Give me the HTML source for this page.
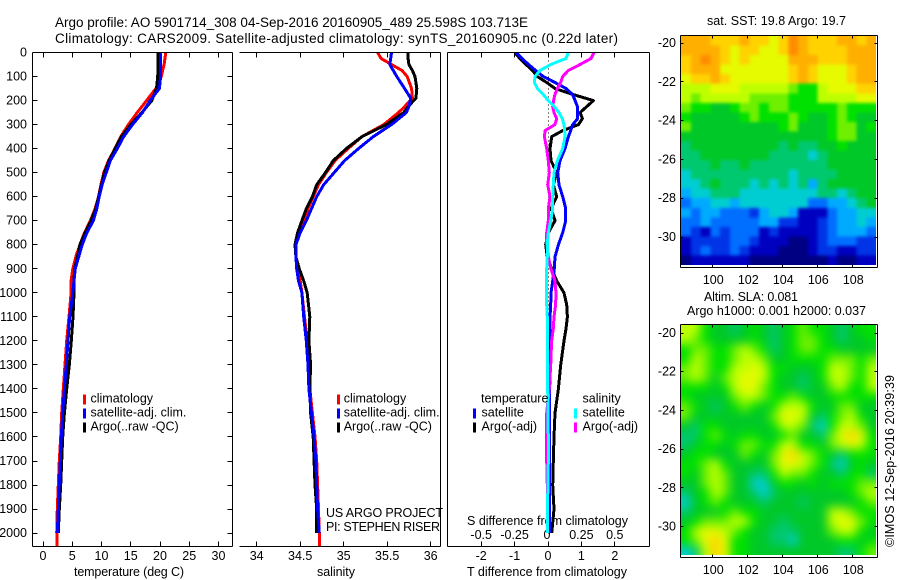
<!DOCTYPE html>
<html>
<head>
<meta charset="utf-8">
<title>Argo profile</title>
<style>
html,body{margin:0;padding:0;background:#fff;width:900px;height:580px;overflow:hidden}
svg{display:block}
text{font-family:"Liberation Sans",sans-serif;font-size:12.5px;fill:#000}
</style>
</head>
<body>
<svg id="chart" xmlns="http://www.w3.org/2000/svg" width="900" height="580" viewBox="0 0 900 580">
<text x="55" y="27" style="font-size:13.5px" textLength="473" lengthAdjust="spacing">Argo profile: AO 5901714_308 04-Sep-2016 20160905_489 25.598S 103.713E</text>
<text x="55" y="43" style="font-size:13.5px" textLength="563" lengthAdjust="spacing">Climatology: CARS2009. Satellite-adjusted climatology: synTS_20160905.nc (0.22d later)</text>
<text x="74" y="576" textLength="110" lengthAdjust="spacing">temperature (deg C)</text>
<text x="317" y="576" textLength="38" lengthAdjust="spacing">salinity</text>
<text x="467" y="576" textLength="160" lengthAdjust="spacing">T difference from climatology</text>
<text x="467" y="525" textLength="161" lengthAdjust="spacing">S difference from climatology</text>
<text x="326" y="517" textLength="117" lengthAdjust="spacing">US ARGO PROJECT</text>
<text x="326" y="531" textLength="114" lengthAdjust="spacing">PI: STEPHEN RISER</text>
<text x="707" y="25" textLength="139" lengthAdjust="spacing">sat. SST: 19.8 Argo: 19.7</text>
<text x="704" y="301" textLength="94" lengthAdjust="spacing">Altim. SLA: 0.081</text>
<text x="687" y="315" textLength="179" lengthAdjust="spacing">Argo h1000: 0.001 h2000: 0.037</text>
<text transform="translate(894 547) rotate(-90)" textLength="172" lengthAdjust="spacing">©IMOS 12-Sep-2016 20:39:39</text>
</svg>
<script>
// ---- profile data ----
const depthsTempUpper = [0,50,100,150,200,250,300,350,400,450,500,550,600,650,700,750,800,850,900,950,1000,1100,1200,1300,1400,1500,1600,1700,1800,1900,2000];
const climTemp = [21.0,20.7,20.2,19.3,17.7,16.1,14.6,13.3,12.3,11.2,10.4,9.9,9.5,8.9,8.1,7.1,6.3,5.6,5.1,4.8,4.8,4.45,4.05,3.76,3.47,3.2,3.02,2.79,2.62,2.45,2.34];
const satTemp = [20.1,20.1,20.1,19.9,18.3,17.0,15.3,13.8,12.7,11.5,10.8,10.1,9.6,9.2,8.6,7.5,6.7,6.1,5.5,5.3,5.1,4.56,4.27,3.99,3.65,3.36,3.13,2.96,2.79,2.62,2.45];
const argoTemp = [19.7,19.7,19.6,19.4,18.6,16.9,15.0,13.4,12.3,11.3,10.5,10.0,9.5,9.0,8.2,7.2,6.3,5.9,5.4,5.3,5.3,5.13,4.84,4.5,4.05,3.65,3.36,3.2,3.02,2.79,2.62];
const climTail = [2.4,2.4];
const climTailDepths = [2000,2060];

const depthsSal = [0,25,50,75,100,150,190,225,250,300,350,400,450,500,550,600,650,700,750,800,850,900,950,1000,1100,1200,1300,1400,1500,1600,1700,1800,1900,2000];
const climSal = [35.39,35.43,35.55,35.67,35.73,35.78,35.79,35.70,35.63,35.46,35.21,35.05,34.90,34.80,34.71,34.65,34.59,34.54,34.49,34.45,34.45,34.47,34.50,34.52,34.55,34.58,34.60,34.61,34.64,34.67,34.69,34.70,34.71,34.72];
const satSal = [35.55,35.54,35.53,35.57,35.61,35.70,35.77,35.75,35.72,35.55,35.34,35.17,35.01,34.89,34.77,34.69,34.63,34.57,34.50,34.45,34.45,34.46,34.48,34.52,34.54,34.57,34.59,34.60,34.63,34.66,34.68,34.69,34.70,34.72];
const argoSal = [35.74,35.74,35.75,35.79,35.82,35.84,35.83,35.74,35.69,35.49,35.21,35.03,34.88,34.79,34.69,34.64,34.57,34.52,34.47,34.44,34.45,34.49,34.54,34.58,34.61,34.60,34.62,34.61,34.62,34.65,34.66,34.67,34.69,34.69];

const depthsDiff = [0,25,50,75,100,125,150,175,200,225,250,275,300,325,350,400,450,500,550,600,650,700,750,800,850,900,950,1000,1050,1100,1150,1200,1300,1400,1500,1600,1700,1800,1900,2000];
const satDiffT = [-0.96,-0.78,-0.58,-0.37,-0.14,0.21,0.54,0.74,0.81,0.88,0.89,0.89,0.74,0.68,0.61,0.51,0.36,0.29,0.33,0.44,0.53,0.53,0.44,0.31,0.21,0.19,0.14,0.09,0.08,0.06,0.06,0.06,0.06,0.05,0.05,0.05,0.05,0.05,0.05,0.04];
const argoDiffT = [-0.99,-0.84,-0.66,-0.46,-0.32,-0.04,0.21,0.76,1.36,1.16,0.96,1.03,0.91,0.44,0.11,0.06,0.09,0.26,0.16,0.26,0.09,0.21,0.01,-0.07,-0.02,0.11,0.26,0.48,0.56,0.58,0.54,0.48,0.38,0.31,0.21,0.18,0.16,0.14,0.18,0.11];
const satDiffS = [0.152,0.135,0.020,-0.060,-0.097,-0.102,-0.080,-0.035,0.002,0.047,0.082,0.107,0.120,0.125,0.127,0.110,0.070,0.045,0.040,0.035,0.035,0.020,0.002,-0.005,-0.005,-0.010,-0.010,-0.010,-0.010,-0.005,-0.005,-0.005,-0.005,-0.002,0,0.002,0.002,0,-0.005,-0.005];
const argoDiffS = [0.344,0.322,0.240,0.152,0.110,0.095,0.070,0.052,0.042,0.035,0.045,0.065,0.052,-0.022,-0.027,-0.010,0.002,0.010,-0.002,0.015,0.002,0.002,-0.010,-0.010,0.002,0.022,0.052,0.060,0.057,0.045,0.040,0.027,0.020,0.010,-0.010,-0.010,-0.010,-0.005,-0.005,-0.005];

// ---- tick labels ----
const depthTicks = [0,100,200,300,400,500,600,700,800,900,1000,1100,1200,1300,1400,1500,1600,1700,1800,1900,2000];
const tempTicks = [0,5,10,15,20,25,30];
const salTicks = [34,34.5,35,35.5,36];
const tDiffTicks = [-2,-1,0,1,2];
const sDiffTicks = [-0.5,-0.25,0,0.25,0.5];
const lonTicks = [100,102,104,106,108];
const latTicks = [-20,-22,-24,-26,-28,-30];

// ---- map data: colour-level grids, rows north to south ----
const mapColumnCount = 20;
const sstLevels = [
[13,13,13,12,12,12,13,12,12,11,12,14,13,12,12,12,13,13,12,13],
[13,13,13,13,12,11,12,12,11,11,12,14,13,12,12,12,12,13,13,13],
[12,13,14,13,12,11,12,11,11,11,11,13,13,13,12,12,12,13,13,13],
[12,13,13,13,11,11,11,11,11,11,11,12,13,12,11,11,11,12,13,13],
[11,12,12,13,12,11,11,11,11,11,11,12,13,12,11,11,11,12,13,13],
[10,10,10,11,11,11,10,10,10,10,10,9,8,8,10,11,11,11,12,12],
[10,9,10,10,10,10,10,9,9,9,9,8,8,8,10,10,10,10,11,11],
[9,8,8,7,7,8,9,9,8,9,9,8,8,8,8,8,9,8,8,8],
[8,7,7,7,7,7,8,9,8,8,8,9,8,7,7,8,9,8,7,7],
[9,7,7,7,7,7,7,7,7,7,8,9,7,7,7,8,9,9,7,8],
[7,7,7,7,7,7,7,7,7,7,7,7,7,7,7,8,9,9,7,7],
[6,7,7,7,7,7,7,7,7,7,6,7,6,6,7,7,8,7,7,7],
[6,6,7,7,7,7,7,7,7,6,6,6,6,5,6,7,7,7,7,7],
[6,6,6,7,6,6,7,6,6,6,6,6,6,6,6,7,7,7,7,7],
[5,6,6,6,6,6,6,6,6,6,6,5,6,6,6,6,7,7,7,7],
[5,5,6,7,6,6,6,5,6,5,6,5,6,4,6,7,7,7,7,7],
[4,5,5,6,6,6,5,5,5,5,5,5,5,5,6,6,5,6,7,7],
[3,4,4,5,5,4,5,5,5,5,5,5,5,3,3,4,4,5,6,7],
[4,3,4,4,3,3,3,2,4,5,5,4,1,1,1,3,4,4,5,5],
[3,3,4,3,3,3,3,3,4,4,2,2,1,1,2,3,4,4,5,4],
[3,2,1,3,2,3,3,3,1,2,1,1,1,1,2,3,4,4,4,3],
[1,2,2,2,2,3,3,2,1,1,1,0,0,1,2,3,3,3,2,2],
[1,2,3,2,2,3,2,1,1,1,0,0,0,1,2,2,1,1,2,2],
[0,1,1,1,1,1,1,0,0,0,0,0,0,0,0,1,0,0,1,1]
];
const slaLevels = [
[10,10,8,7,7,6,7,8,7,6,7,8,9,8,8,7,6,7,8,8],
[10,9,8,7,7,7,7,8,7,6,7,8,9,9,8,7,6,7,7,8],
[8,9,9,8,8,9,10,9,8,6,7,8,9,9,8,8,7,7,7,7],
[8,10,9,8,8,9,10,10,9,7,7,8,8,8,8,9,9,9,8,9],
[9,10,9,8,8,10,10,11,10,8,8,7,7,7,8,10,10,9,8,10],
[9,10,9,7,9,10,11,11,10,8,7,7,6,7,8,10,10,9,8,10],
[8,8,8,7,8,10,11,11,9,8,7,7,6,7,7,9,10,8,8,10],
[8,7,7,7,7,9,10,10,9,8,8,9,8,7,7,8,8,8,8,8],
[9,8,7,6,7,8,9,8,7,8,10,10,10,8,7,7,9,9,7,7],
[9,7,7,7,7,7,7,7,7,9,11,11,10,7,6,8,9,10,8,7],
[7,6,8,8,7,7,7,7,7,8,10,10,9,6,5,8,10,10,9,7],
[6,6,8,9,8,7,8,8,7,7,8,9,7,7,6,9,11,12,11,8],
[6,7,8,8,7,8,9,9,8,8,10,10,8,8,7,9,10,11,10,8],
[7,8,8,7,7,7,9,8,7,9,11,12,10,9,8,7,6,8,8,8],
[8,8,9,10,8,7,7,7,7,9,11,11,10,9,8,6,5,7,8,7],
[8,7,9,10,9,7,7,6,6,8,10,9,9,8,7,7,6,8,8,6],
[7,7,9,10,9,7,7,5,5,7,8,8,7,8,7,8,8,8,9,9],
[6,7,8,10,9,7,7,6,5,6,7,7,7,7,7,7,7,8,9,10],
[5,7,8,9,8,7,7,7,6,7,7,7,6,7,7,7,7,7,8,9],
[6,7,7,7,8,9,8,8,7,7,7,7,7,7,7,10,10,9,8,8],
[7,8,9,9,9,10,10,8,7,7,6,7,7,7,7,10,11,11,9,8],
[8,10,11,11,10,9,8,7,7,6,6,6,7,7,7,9,10,10,8,7],
[8,9,11,12,11,8,8,7,7,6,6,5,7,7,7,7,8,8,7,8],
[5,6,10,12,11,8,8,7,7,7,7,7,7,7,7,7,6,6,8,9]
];
const levelColours = ['#000082','#0000c0','#0034e6','#006eff','#00aaff','#00cdd2','#00c86e','#00c828','#00e100','#6ef000','#beff00','#e6fa00','#ffd200','#ffaf00','#ff8c00'];

// ---- axis functions ----
const NS = 'http://www.w3.org/2000/svg';
const svg = document.getElementById('chart');
const yDepth = d => 52.5 + d * 0.2403;
const xTemp = t => 43 + t * 5.85;
const xSal = s => 256.7 + (s - 34) * 87;
const xDiffT = t => 548 + t * 33.4;
const xDiffS = s => 548 + s * 133.6;
const xLon = lon => 712.3 + (lon - 100) * 17.5;
const ySstLat = lat => 43 + (-20 - lat) * 19.4;
const ySlaLat = lat => 333 + (-20 - lat) * 19.36;

function make(tag, parent) {
  const el = document.createElementNS(NS, tag);
  parent.appendChild(el);
  return el;
}
function segment(parent, x1, y1, x2, y2, name) {
  const el = make('line', parent);
  el.setAttribute('x1', Math.round(x1 - 0.5) + 0.5);
  el.setAttribute('y1', Math.round(y1 - 0.5) + 0.5);
  el.setAttribute('x2', Math.round(x2 - 0.5) + 0.5);
  el.setAttribute('y2', Math.round(y2 - 0.5) + 0.5);
  el.setAttribute('stroke', '#000');
  el.setAttribute('stroke-width', 1);
  el.setAttribute('shape-rendering', 'crispEdges');
  
  
  return el;
}
function label(parent, x, y, str, anchor, name) {
  const el = make('text', parent);
  el.setAttribute('x', x);
  el.setAttribute('y', y);
  el.setAttribute('text-anchor', anchor);
  el.textContent = str;
  
  
  return el;
}
function profile(parent, xs, ds, xFn, colour, name) {
  const el = make('polyline', parent);
  el.setAttribute('points', xs.map((v, i) => xFn(v).toFixed(1) + ',' + yDepth(ds[i]).toFixed(1)).join(' '));
  el.setAttribute('fill', 'none');
  el.setAttribute('stroke', colour);
  el.setAttribute('stroke-width', 3);
  el.setAttribute('stroke-linejoin', 'round');
  el.setAttribute('shape-rendering', 'crispEdges');
  el.setAttribute('clip-path', 'url(#clip-panels)');
  
  
  return el;
}
function legendEntry(parent, barX, textX, baseline, colour, str, name) {
  const bar = make('rect', parent);
  bar.setAttribute('x', barX);
  bar.setAttribute('y', baseline - 8);
  bar.setAttribute('width', 3);
  bar.setAttribute('height', 10);
  bar.setAttribute('fill', colour);
  
  
  label(parent, textX, baseline, str, 'start', name);
}
function heatmap(parent, grid, x0, y0, w, h, name) {
  const rows = grid.length;
  const cw = w / mapColumnCount;
  const ch = h / rows;
  const bleed = 12;
  grid.forEach((row, r) => row.forEach((lvl, c) => {
    const cell = make('rect', parent);
    const left = c === 0 ? bleed : 0;
    const right = c === mapColumnCount - 1 ? bleed : 0;
    const up = r === 0 ? bleed : 0;
    const down = r === rows - 1 ? bleed : 0;
    cell.setAttribute('x', (x0 + c * cw - left).toFixed(2));
    cell.setAttribute('y', (y0 + r * ch - up).toFixed(2));
    cell.setAttribute('width', (cw + 0.4 + left + right).toFixed(2));
    cell.setAttribute('height', (ch + 0.4 + up + down).toFixed(2));
    cell.setAttribute('fill', levelColours[lvl]);
    cell.setAttribute('shape-rendering', 'crispEdges');
    
    
  }));
}

// clip for profile lines, blur filters for maps
const defs = make('defs', svg);
const clip = make('clipPath', defs);
clip.setAttribute('id', 'clip-panels');
const clipRect = make('rect', clip);
clipRect.setAttribute('x', 0);
clipRect.setAttribute('y', 53);
clipRect.setAttribute('width', 660);
clipRect.setAttribute('height', 493);
function blurFilter(id, amount) {
  const f = make('filter', defs);
  f.setAttribute('id', id);
  f.setAttribute('x', '-10%');
  f.setAttribute('y', '-10%');
  f.setAttribute('width', '120%');
  f.setAttribute('height', '120%');
  f.setAttribute('color-interpolation-filters', 'sRGB');
  const b = make('feGaussianBlur', f);
  b.setAttribute('stdDeviation', amount);
}
blurFilter('blur-sst', 1.6);
blurFilter('blur-sla', 5);

const TOP = 52, BOTTOM = 546, TL = 5;

// ---- temperature panel ----
const p1 = make('g', svg);


segment(p1, 32, TOP, 232, TOP, 'temperature-top-axis');
segment(p1, 32, BOTTOM, 232, BOTTOM, 'temperature-bottom-axis');
segment(p1, 32, TOP, 32, BOTTOM, 'depth-axis');
segment(p1, 232, TOP, 232, BOTTOM, 'temperature-right-axis');
depthTicks.forEach(d => {
  const y = yDepth(d);
  segment(p1, 32, y, 32 + TL, y, 'depth-tick');
  segment(p1, 232, y, 232 - TL, y, 'depth-tick-right');
  label(p1, 27, y + 4, String(d), 'end', 'depth-tick-label');
});
tempTicks.forEach(t => {
  const x = xTemp(t);
  segment(p1, x, TOP, x, TOP + TL, 'temperature-tick-top');
  segment(p1, x, BOTTOM, x, BOTTOM - TL, 'temperature-tick');
  label(p1, x, 560, String(t), 'middle', 'temperature-tick-label');
});
profile(p1, climTemp, depthsTempUpper, xTemp, '#ff0000', 'climatology-temperature-line');
profile(p1, climTail, climTailDepths, xTemp, '#ff0000', 'climatology-temperature-tail');
profile(p1, argoTemp, depthsTempUpper, xTemp, '#000000', 'argo-temperature-line');
profile(p1, satTemp, depthsTempUpper, xTemp, '#0000ff', 'satellite-temperature-line');
legendEntry(p1, 83, 90.5, 402.5, '#ff0000', 'climatology', 'temperature-legend-climatology');
legendEntry(p1, 83, 90.5, 416.5, '#0000ff', 'satellite-adj. clim.', 'temperature-legend-satellite');
legendEntry(p1, 83, 90.5, 430.5, '#000000', 'Argo(..raw -QC)', 'temperature-legend-argo');

// ---- salinity panel ----
const p2 = make('g', svg);


segment(p2, 239, TOP, 440, TOP, 'salinity-top-axis');
segment(p2, 239, BOTTOM, 440, BOTTOM, 'salinity-bottom-axis');
segment(p2, 440, TOP, 440, BOTTOM, 'salinity-right-axis');
salTicks.forEach(s => {
  const x = xSal(s);
  segment(p2, x, TOP, x, TOP + TL, 'salinity-tick-top');
  segment(p2, x, BOTTOM, x, BOTTOM - TL, 'salinity-tick');
  label(p2, x, 560, String(s), 'middle', 'salinity-tick-label');
});
profile(p2, climSal, depthsSal, xSal, '#ff0000', 'climatology-salinity-line');
profile(p2, climTail.map(() => 34.72), climTailDepths, xSal, '#ff0000', 'climatology-salinity-tail');
profile(p2, argoSal, depthsSal, xSal, '#000000', 'argo-salinity-line');
profile(p2, satSal, depthsSal, xSal, '#0000ff', 'satellite-salinity-line');
legendEntry(p2, 337, 343.7, 402.5, '#ff0000', 'climatology', 'salinity-legend-climatology');
legendEntry(p2, 337, 343.7, 416.5, '#0000ff', 'satellite-adj. clim.', 'salinity-legend-satellite');
legendEntry(p2, 337, 343.7, 430.5, '#000000', 'Argo(..raw -QC)', 'salinity-legend-argo');

// ---- difference panel ----
const p3 = make('g', svg);


segment(p3, 447, TOP, 649, TOP, 'difference-top-axis');
segment(p3, 447, BOTTOM, 649, BOTTOM, 'difference-bottom-axis');
segment(p3, 447, TOP, 447, BOTTOM, 'difference-left-axis');
segment(p3, 649, TOP, 649, BOTTOM, 'difference-right-axis');
tDiffTicks.forEach(t => {
  const x = xDiffT(t);
  segment(p3, x, TOP, x, TOP + TL, 'difference-tick-top');
  segment(p3, x, BOTTOM, x, BOTTOM - TL, 'difference-tick');
  label(p3, x, 560, String(t), 'middle', 't-difference-tick-label');
});
sDiffTicks.forEach(s => {
  label(p3, xDiffS(s) - (s === 0 ? 1 : 0), 539, String(s), 'middle', 's-difference-tick-label');
});
const zero = segment(p3, xDiffT(0), TOP, xDiffT(0), yDepth(depthsDiff[depthsDiff.length - 1]), 'zero-difference-line');
zero.setAttribute('stroke-dasharray', '1 3');
profile(p3, argoDiffT, depthsDiff, xDiffT, '#000000', 'argo-t-difference-line');
profile(p3, satDiffT, depthsDiff, xDiffT, '#0000ff', 'satellite-t-difference-line');
profile(p3, argoDiffS, depthsDiff, xDiffS, '#ff00ff', 'argo-s-difference-line');
profile(p3, satDiffS, depthsDiff, xDiffS, '#00ffff', 'satellite-s-difference-line');
label(p3, 481, 402.5, 'temperature', 'start', 'legend-temperature-heading');
legendEntry(p3, 473, 481.5, 416.5, '#0000ff', 'satellite', 'difference-legend-t-satellite');
legendEntry(p3, 473, 481.5, 430.5, '#000000', 'Argo(-adj)', 'difference-legend-t-argo');
label(p3, 582.5, 402.5, 'salinity', 'start', 'legend-salinity-heading');
legendEntry(p3, 574, 582.5, 416.5, '#00ffff', 'satellite', 'difference-legend-s-satellite');
legendEntry(p3, 574, 582.5, 430.5, '#ff00ff', 'Argo(-adj)', 'difference-legend-s-argo');

// ---- maps ----
function mapPanel(name, grid, top, bottom, imgH, yLat, xLabelBase, blurId) {
  const g = make('g', svg);
  
  
  const clipP = make('clipPath', defs);
  clipP.setAttribute('id', name + '-clip');
  const clipR = make('rect', clipP);
  clipR.setAttribute('x', 681);
  clipR.setAttribute('y', top + 1);
  clipR.setAttribute('width', 195);
  clipR.setAttribute('height', imgH);
  const outer = make('g', g);
  outer.setAttribute('clip-path', 'url(#' + name + '-clip)');
  
  
  const inner = make('g', outer);
  inner.setAttribute('filter', 'url(#' + blurId + ')');
  
  
  heatmap(inner, grid, 681, top + 1, 195, imgH, name + '-cell');
  segment(g, 680, top, 877, top, name + '-top-border');
  segment(g, 680, bottom, 877, bottom, name + '-bottom-border');
  segment(g, 680, top, 680, bottom, name + '-left-border');
  segment(g, 877, top, 877, bottom, name + '-right-border');
  lonTicks.forEach(lon => {
    const x = xLon(lon);
    segment(g, x, top, x, top + 3, name + '-lon-tick-top');
    segment(g, x, bottom, x, bottom - 3, name + '-lon-tick');
    label(g, x + 1, xLabelBase, String(lon), 'middle', name + '-lon-label');
  });
  latTicks.forEach(lat => {
    const y = yLat(lat);
    segment(g, 680, y, 683, y, name + '-lat-tick');
    segment(g, 877, y, 874, y, name + '-lat-tick-right');
    label(g, 676, y + 4, String(lat), 'end', name + '-lat-label');
  });
}
mapPanel('sst-map', sstLevels, 35, 267, 229, ySstLat, 284, 'blur-sst');
mapPanel('sla-map', slaLevels, 324, 557, 230, ySlaLat, 574, 'blur-sla');
</script>
</body>
</html>
